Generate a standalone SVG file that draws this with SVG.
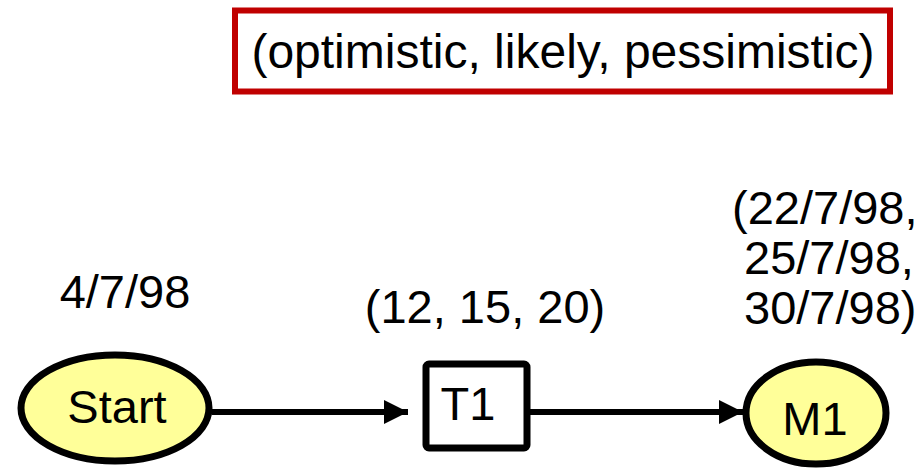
<svg xmlns="http://www.w3.org/2000/svg" width="921" height="471" viewBox="0 0 921 471">
<style>
text{font-family:"Liberation Sans",Arial,sans-serif;font-size:47px;fill:#000}
.node{fill:#ffff99;stroke:#000;stroke-width:7}
.conn{stroke:#000;stroke-width:6;fill:none}
</style>
<defs>
<marker id="ah" markerUnits="userSpaceOnUse" markerWidth="26" markerHeight="26" refX="24" refY="12" orient="auto">
<path d="M0,0 L24,12 L0,24 Z" fill="#000"/>
</marker>
</defs>
<rect width="921" height="471" fill="#fff"/>
<g id="legend">
<rect x="235" y="10.5" width="655" height="81" fill="#fff" stroke="#c00000" stroke-width="6"/>
<text x="563" y="68" text-anchor="middle" style="font-size:48px">(optimistic, likely, pessimistic)</text>
</g>
<g id="connectors">
<line class="conn" x1="212" y1="412" x2="408" y2="412" marker-end="url(#ah)"/>
<line class="conn" x1="530" y1="412" x2="743" y2="412" marker-end="url(#ah)"/>
</g>
<g id="start">
<ellipse class="node" cx="115" cy="408" rx="94" ry="53"/>
<text x="117" y="423" text-anchor="middle">Start</text>
<text x="125" y="308" text-anchor="middle">4/7/98</text>
</g>
<g id="t1">
<rect x="426" y="364" width="101" height="84" rx="3" fill="#fff" stroke="#000" stroke-width="7"/>
<text x="468" y="420" text-anchor="middle">T1</text>
<text x="485" y="323" text-anchor="middle">(12, 15, 20)</text>
</g>
<g id="m1">
<ellipse class="node" cx="816" cy="413" rx="70" ry="51"/>
<text x="815" y="435" text-anchor="middle">M1</text>
<text><tspan x="732" y="224">(22/7/98,</tspan><tspan x="744" y="274">25/7/98,</tspan><tspan x="744" y="324">30/7/98)</tspan></text>
</g>
</svg>
